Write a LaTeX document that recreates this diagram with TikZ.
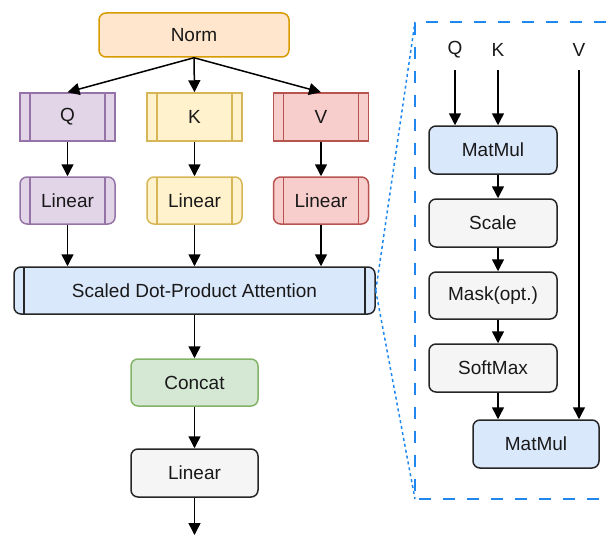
\documentclass[tikz,border=0pt]{standalone}
\usepackage{fontspec}
\setmainfont{Liberation Sans}
\usetikzlibrary{arrows.meta}
\definecolor{qfill}{HTML}{E1D5E7}\definecolor{qdraw}{HTML}{9673A6}
\definecolor{kfill}{HTML}{FFF2CC}\definecolor{kdraw}{HTML}{D6B656}
\definecolor{vfill}{HTML}{F8CECC}\definecolor{vdraw}{HTML}{B85450}
\definecolor{nfill}{HTML}{FFE6CC}\definecolor{ndraw}{HTML}{D79B00}
\definecolor{bfill}{HTML}{DAE8FC}
\definecolor{gfill}{HTML}{D5E8D4}\definecolor{gdraw}{HTML}{82B366}
\definecolor{wfill}{HTML}{F5F5F5}
\definecolor{panel}{HTML}{1E88F0}
\begin{document}
\begin{tikzpicture}[x=1pt,y=-1pt,
  box/.style={draw=#1, line width=1.5pt, font=\fontsize{19}{22}\selectfont, inner sep=0pt, text=black!90},
  sq/.style={box=#1, minimum width=95pt, minimum height=48pt},
  rnd/.style={box=#1, rounded corners=7pt},
  inner/.style={path picture={\draw[#1, line width=1.5pt]
     ([xshift=10pt]path picture bounding box.north west) -- ([xshift=10pt]path picture bounding box.south west)
     ([xshift=-10pt]path picture bounding box.north east) -- ([xshift=-10pt]path picture bounding box.south east);}},
  arr/.style={line width=1.5pt, -{Triangle[width=12pt,length=12pt]}},
  dots/.style={draw=panel, line width=1.5pt, dash pattern=on 3pt off 3pt},
  lbl/.style={font=\fontsize{19}{22}\selectfont, minimum height=40pt, inner sep=0pt, text=black!90}
]
\useasboundingbox (0,0) rectangle (607,535);
\clip (0,0) rectangle (607,535);
% left column
\node[rnd=ndraw, fill=nfill, minimum width=190pt, minimum height=44pt] (norm) at (194,35) {Norm};
\node[sq=qdraw, fill=qfill, inner=qdraw] (q) at (67.5,117) {Q};
\node[sq=kdraw, fill=kfill, inner=kdraw] (k) at (194.5,117) {K};
\node[sq=vdraw, fill=vfill, inner=vdraw] (v) at (321,117) {V};
\node[rnd=qdraw, fill=qfill, inner=qdraw, minimum width=95pt, minimum height=47pt] (lq) at (67.5,200.5) {Linear};
\node[rnd=kdraw, fill=kfill, inner=kdraw, minimum width=95pt, minimum height=47pt] (lk) at (194.5,200.5) {Linear};
\node[rnd=vdraw, fill=vfill, inner=vdraw, minimum width=95pt, minimum height=47pt] (lv) at (321,200.5) {Linear};
\node[rnd=black!85, fill=bfill, inner=black!85, minimum width=361pt, minimum height=47pt] (att) at (194.5,290.5) {Scaled Dot-Product Attention};
\node[rnd=gdraw, fill=gfill, minimum width=127pt, minimum height=47pt] (cat) at (194.5,382.5) {Concat};
\node[rnd=black!85, fill=wfill, minimum width=127pt, minimum height=48pt] (lf) at (194.5,473) {Linear};
\coordinate (out) at (194.5,535);
\draw[arr] (norm.south) -- (q.north);
\draw[arr] (norm.south) -- (k.north);
\draw[arr] (norm.south) -- (v.north);
\draw[arr] (q.south) -- (lq.north);
\draw[arr] (k.south) -- (lk.north);
\draw[arr] (v.south) -- (lv.north);
\draw[arr] (lq.south) -- (lq.south |- att.north);
\draw[arr] (lk.south) -- (lk.south |- att.north);
\draw[arr] (lv.south) -- (lv.south |- att.north);
\draw[arr] (att.south) -- (cat.north);
\draw[arr] (cat.south) -- (lf.north);
\draw[arr] (lf.south) -- (out);
% right panel
\coordinate (pnw) at (415,22);
\coordinate (psw) at (415,499);
\draw[panel, line width=1.5pt, dash pattern=on 12pt off 12pt] (630,22) -- (pnw) -- (psw) -- (630,499);
\draw[dots] (att.east) -- (pnw);
\draw[dots] (att.east) -- (psw);
\node[lbl] (ql) at (455,50) {Q};
\node[lbl] (kl) at (498,50) {K};
\node[lbl] (vl) at (579,50) {V};
\node[rnd=black!85, fill=bfill, minimum width=128pt, minimum height=48pt] (mm1) at (493,150) {MatMul};
\node[rnd=black!85, fill=wfill, minimum width=128pt, minimum height=48pt] (sc) at (493,223) {Scale};
\node[rnd=black!85, fill=wfill, minimum width=128pt, minimum height=47pt] (mk) at (493,295.5) {Mask(opt.)};
\node[rnd=black!85, fill=wfill, minimum width=128pt, minimum height=48pt] (sm) at (493,368) {SoftMax};
\node[rnd=black!85, fill=bfill, minimum width=126pt, minimum height=48pt] (mm2) at (536,444) {MatMul};
\draw[arr] (ql.south) -- (ql.south |- mm1.north);
\draw[arr] (kl.south) -- (kl.south |- mm1.north);
\draw[arr] (vl.south) -- (vl.south |- mm2.north);
\draw[arr] ([xshift=5pt]mm1.south) -- ([xshift=5pt]sc.north);
\draw[arr] ([xshift=5pt]sc.south) -- ([xshift=5pt]mk.north);
\draw[arr] ([xshift=5pt]mk.south) -- ([xshift=5pt]sm.north);
\draw[arr] ([xshift=5pt]sm.south) -- ([xshift=5pt]sm.south |- mm2.north);
\end{tikzpicture}
\end{document}
